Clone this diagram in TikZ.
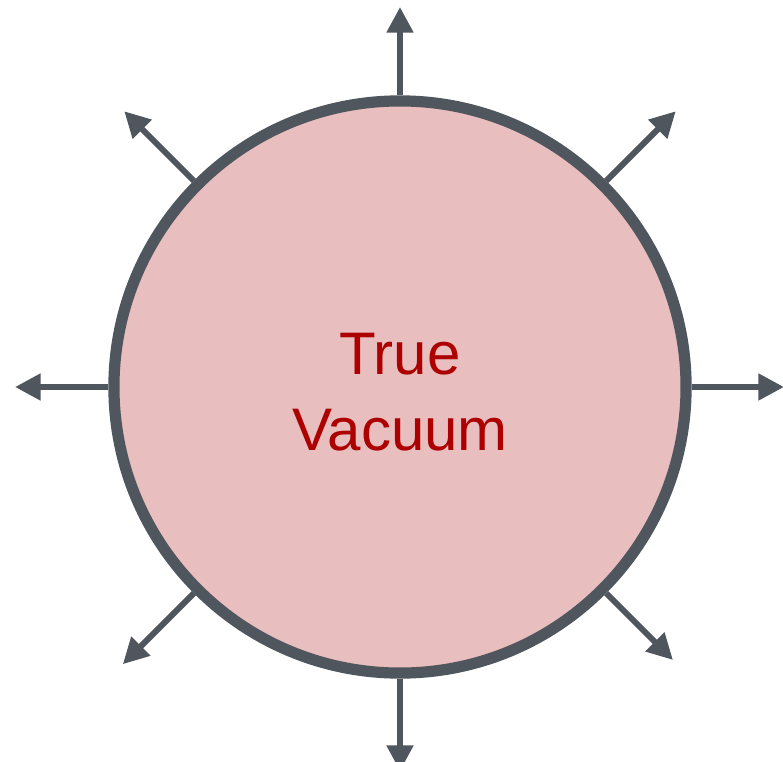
\documentclass[tikz,border=0pt]{standalone}
\usepackage{fontspec}
\setmainfont{Liberation Sans}
\usetikzlibrary{arrows.meta}

\definecolor{ringgray}{HTML}{50565E}
\definecolor{bubblefill}{HTML}{E8BEBF}
\definecolor{bubbletext}{HTML}{AD0000}

\begin{document}
\begin{tikzpicture}[
        x=0.025cm, y=-0.025cm,
        % the bubble itself
        bubble/.style={circle, draw=ringgray, fill=bubblefill, line width=0.28cm,
            minimum size=14.3cm, inner sep=0pt},
        bubblelabel/.style={text=bubbletext, align=center,
            font=\fontsize{42.7}{54}\selectfont},
        % outward arrows
        push/.style={draw=ringgray, line width=0.15cm,
            -{Triangle[length=0.64cm, width=0.64cm]}}
    ]
    \useasboundingbox (0,0) rectangle (783,762);

    % Bubble
    \node (vac) [bubble] at (400,387) {};
    \node (vaclabel) [bubblelabel] at ([yshift=-0.12cm]vac.center) {True\\Vacuum};

    % Arrows pointing outward
    \foreach \ang/\len in {0/384, 45/390, 90/380, 135/390, 180/385, 225/392, 270/384, 315/386} {
        \coordinate (tip\ang) at ([shift={(\ang:\len*0.025cm)}]vac.center);
        \draw [push] (vac.\ang) -- (tip\ang);
    }
\end{tikzpicture}
\end{document}
